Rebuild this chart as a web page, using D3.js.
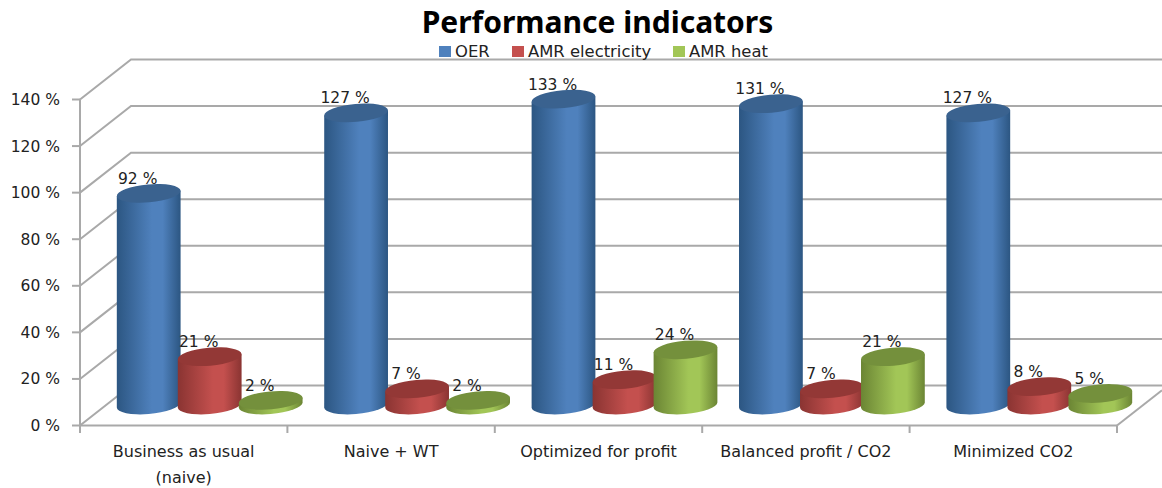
<!DOCTYPE html>
<html><head><meta charset="utf-8">
<script src="https://cdn.jsdelivr.net/npm/d3@7"></script>
<style>html,body{margin:0;padding:0;background:#fff}svg{display:block}</style>
</head><body><div id="chart"></div>
<script>
const categories = [["Business as usual","(naive)"],["Naive + WT"],["Optimized for profit"],["Balanced profit / CO2"],["Minimized CO2"]];
const seriesNames = ["OER","AMR electricity","AMR heat"];
const oer = [92,127,133,131,127];
const amrElectricity = [21,7,11,7,8];
const amrHeat = [2,2,24,21,5];
const yTicks = [0,20,40,60,80,100,120,140];
const palette = [
  {edge:"#2c5682",mid:"#4f81bd",top:"#3a628f"},
  {edge:"#8a3432",mid:"#c4504e",top:"#933836"},
  {edge:"#6b8534",mid:"#a2c657",top:"#74903c"}];

const W=1162,H=488;
const svg=d3.select("#chart").append("svg").attr("width",W).attr("height",H);
const FONT="'DejaVu Sans',sans-serif";
const TITLEFONT="'Noto Sans',sans-serif";
const depthX=51, depthY=-40;
const x0=d3.scaleBand().domain(categories.map((c,i)=>i)).range([80,1117]);
const xS=d3.scaleBand().domain([0,1,2]).range([-91.5,91.5]);
const yFront=d3.scaleLinear().domain([0,140]).range([425.5,99.5]);
const yBar=d3.scaleLinear().domain([0,140]).range([405,83]);

const defs=svg.append("defs");
palette.forEach((p,i)=>{
  const g=defs.append("linearGradient").attr("id","g"+i).attr("x1",0).attr("x2",1).attr("y1",0).attr("y2",0);
  [[0,p.edge],[0.55,p.mid],[0.72,p.mid],[1,p.edge]].forEach(s=>g.append("stop").attr("offset",s[0]).attr("stop-color",s[1]));
});

const grid="#a9a9a9";
const gl=svg.append("g").attr("fill","none").attr("stroke",grid).attr("stroke-width",2);
yTicks.forEach(t=>{
  const y=yFront(t);
  gl.append("path").attr("d",d3.line()([[80,y],[80+depthX,y+depthY],[W,y+depthY]]));
});
gl.append("path").attr("d",d3.line()([[1117,425.5],[W,425.5+depthY*(W-1117)/depthX]]));
gl.append("path").attr("d",d3.line()([[80,yFront(140)],[80,yFront(0)],[1117,yFront(0)]]));
yTicks.forEach(t=>gl.append("path").attr("d",d3.line()([[72,yFront(t)],[80,yFront(t)]])));
d3.range(6).forEach(i=>{
  const x=80+i*x0.step();
  gl.append("path").attr("d",d3.line()([[x,425.5],[x,433]]));
});

svg.append("g").selectAll("text").data(yTicks).join("text")
  .attr("x",60).attr("y",d=>yFront(d)+1).attr("text-anchor","end").attr("dominant-baseline","middle")
  .attr("font-family",FONT).attr("font-size",15.5).attr("fill","#222").text(d=>d+" %");

categories.forEach((c,i)=>{
  c.forEach((line,j)=>{
    svg.append("text").attr("x",x0(i)+x0.bandwidth()/2).attr("y",452+j*26)
      .attr("text-anchor","middle").attr("dominant-baseline","middle")
      .attr("font-family",FONT).attr("font-size",16).attr("fill","#222").text(line);
  });
});

const rx=32,ry=9,phi=-5*Math.PI/180;
const extY=(rx*rx-ry*ry)*Math.sin(phi)*Math.cos(phi)/Math.sqrt(rx*rx*Math.cos(phi)**2+ry*ry*Math.sin(phi)**2);
const extX=Math.sqrt(rx*rx*Math.cos(phi)**2+ry*ry*Math.sin(phi)**2);
const series=[oer,amrElectricity,amrHeat];
const bars=svg.append("g");
const labels=[];
categories.forEach((c,i)=>{
  series.forEach((vals,s)=>{
    const cx=x0(i)+x0.bandwidth()/2+26+xS(s)+xS.bandwidth()/2;
    const yB=yBar(0), yT=yBar(vals[i]);
    const body=`M${cx-extX},${yT-extY}L${cx-extX},${yB-extY}A${rx},${ry},-5,0,0,${cx+extX},${yB+extY}L${cx+extX},${yT+extY}Z`;
    bars.append("path").attr("d",body).attr("fill",`url(#g${s})`);
    bars.append("ellipse").attr("cx",cx).attr("cy",yT).attr("rx",rx).attr("ry",ry)
      .attr("transform",`rotate(-5 ${cx} ${yT})`).attr("fill",palette[s].top);
    labels.push({x:cx-11,y:yT-14,t:vals[i]+" %"});
  });
});
svg.append("g").selectAll("text").data(labels).join("text")
  .attr("x",d=>d.x).attr("y",d=>d.y).attr("text-anchor","middle").attr("dominant-baseline","middle")
  .attr("font-family",FONT).attr("font-size",15.5).attr("fill","#222").text(d=>d.t);

svg.append("text").attr("x",597.5).attr("y",25).attr("text-anchor","middle").attr("dominant-baseline","middle")
  .attr("font-family",TITLEFONT).attr("font-weight",700).attr("font-size",30).attr("fill","#000").text("Performance indicators");

const legendX=[439,512,673];
seriesNames.forEach((n,i)=>{
  svg.append("rect").attr("x",legendX[i]).attr("y",46).attr("width",12).attr("height",11).attr("fill",palette[i].mid);
  svg.append("text").attr("x",legendX[i]+16).attr("y",52).attr("dominant-baseline","middle")
    .attr("font-family",FONT).attr("font-size",16.4).attr("fill","#222").text(n);
});
</script></body></html>
